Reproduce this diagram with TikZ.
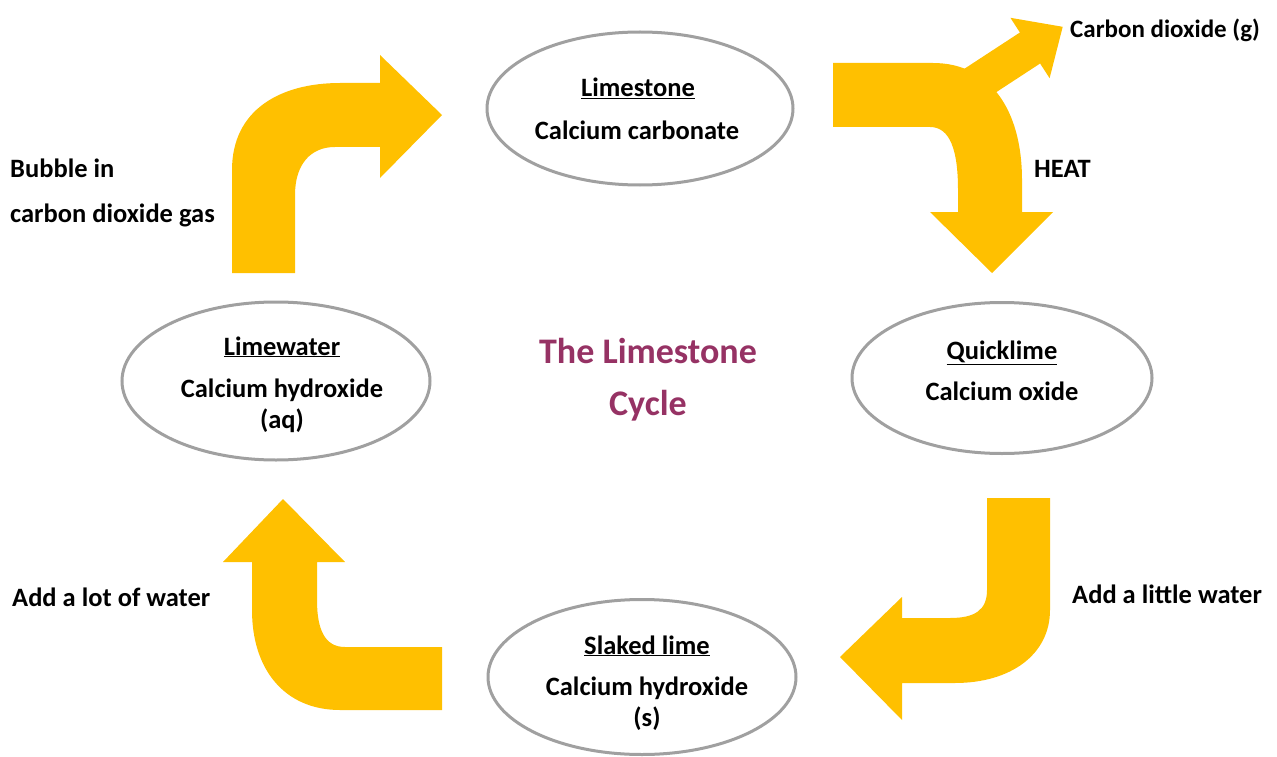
\documentclass[tikz,border=0pt]{standalone}
\usepackage{fontspec}
\setmainfont{Carlito}
\usetikzlibrary{shapes.geometric}
\definecolor{arrowgold}{RGB}{255,192,0}
\definecolor{ovalgray}{RGB}{160,160,160}
\definecolor{titlepurple}{RGB}{150,50,100}
\tikzset{
  ovalbox/.style={ellipse, draw=ovalgray, line width=3pt, fill=white, inner sep=0pt},
  blockarrow/.style={fill=arrowgold, draw=none},
  txt/.style={font=\fontsize{26.5}{30}\selectfont\bfseries, inner sep=0pt, anchor=base},
  lbl/.style={font=\fontsize{26.5}{30}\selectfont\bfseries, inner sep=0pt, anchor=base west},
  ttl/.style={font=\fontsize{36}{40}\selectfont\bfseries, text=titlepurple, inner sep=0pt, anchor=base}
}
\begin{document}
\begin{tikzpicture}[x=1pt,y=-1pt]
\useasboundingbox (0,0) rectangle (1277,757);

% ovals
\node[ovalbox, minimum width=306pt, minimum height=153pt] (limestone) at (640,108.5) {};
\node[ovalbox, minimum width=308pt, minimum height=158pt] (limewater) at (276,381) {};
\node[ovalbox, minimum width=300pt, minimum height=151pt] (quicklime) at (1002,378) {};
\node[ovalbox, minimum width=308pt, minimum height=155pt] (slaked) at (642,677) {};

% oval texts
\node[txt] (t1a) at (638,97) {\underline{Limestone}};
\node[txt] (t1b) at (637,140) {Calcium carbonate};
\node[txt] (t2a) at (282,355) {\underline{Limewater}};
\node[txt] (t2b) at (282,397) {Calcium hydroxide};
\node[txt] (t2c) at (282,428) {(aq)};
\node[txt] (t3a) at (1002,359) {\underline{Quicklime}};
\node[txt] (t3b) at (1002,400) {Calcium oxide};
\node[txt] (t4a) at (647,654) {\underline{Slaked lime}};
\node[txt] (t4b) at (647,695) {Calcium hydroxide};
\node[txt] (t4c) at (647,726) {(s)};

% title
\node[ttl] (title1) at (648,363) {The Limestone};
\node[ttl] (title2) at (648,415) {Cycle};

% side labels
\node[lbl] (bub1) at (10,178) {Bubble in};
\node[lbl] (bub2) at (10,222) {carbon dioxide gas};
\node[lbl] (lot) at (12,606) {Add a lot of water};
\node[lbl] (little) at (1072,603) {Add a little water};
\node[lbl] (heat) at (1034,178) {HEAT};
\node[lbl, font=\fontsize{25}{30}\selectfont\bfseries] (co2) at (1070,38) {Carbon dioxide (g)};

% top-right arrow (Limestone -> Quicklime)
\fill[blockarrow] (833,63) -- (933,63)
  .. controls (990,63) and (1022,110) .. (1022,180) -- (1022,212)
  -- (1053,212) -- (992,273) -- (930,212) -- (958,212) -- (958,190)
  .. controls (958,150) and (950,127) .. (930,127) -- (833,127) -- cycle;
% branch: carbon dioxide given off
\fill[blockarrow] (944.9,81.5) -- (1019.9,32.5) -- (1010.4,17.8) -- (1062.7,26.8)
  -- (1049.6,78.2) -- (1040.1,63.5) -- (965.1,112.5) -- cycle;

% bottom-right arrow (Quicklime -> Slaked lime)
\fill[blockarrow] (987,498) -- (1050,498) -- (1050,610)
  .. controls (1050,655) and (1010,683) .. (955,683) -- (902,683)
  -- (902,720) -- (840,657) -- (902,597) -- (902,618) -- (950,618)
  .. controls (975,618) and (987,610) .. (987,590) -- cycle;

% bottom-left arrow (Slaked lime -> Limewater)
\fill[blockarrow] (442,647) -- (442,710) -- (340,710)
  .. controls (285,710) and (252,670) .. (252,610) -- (252,562)
  -- (223,562) -- (283,499) -- (345,562) -- (317,562) -- (317,600)
  .. controls (317,630) and (325,647) .. (345,647) -- cycle;

% top-left arrow (Limewater -> Limestone)
\fill[blockarrow] (232,273) -- (232,170)
  .. controls (232,110) and (280,83) .. (340,83) -- (380,83)
  -- (380,55) -- (442,115) -- (380,178) -- (380,147) -- (335,147)
  .. controls (310,147) and (295,165) .. (295,195) -- (295,273) -- cycle;
\end{tikzpicture}
\end{document}
